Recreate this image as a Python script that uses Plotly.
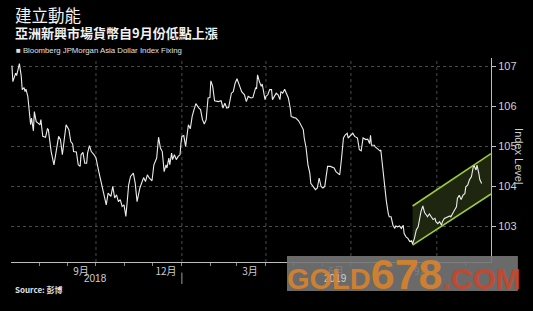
import plotly.graph_objects as go

# ---- data ----
dates = [
    "2018-07-03","2018-07-04","2018-07-07","2018-07-08","2018-07-11","2018-07-13","2018-07-14","2018-07-16",
    "2018-07-17","2018-07-18","2018-07-20","2018-07-22","2018-07-23","2018-07-24","2018-07-26","2018-07-27",
    "2018-07-29","2018-07-31","2018-08-02","2018-08-03","2018-08-05","2018-08-08","2018-08-10","2018-08-11",
    "2018-08-12","2018-08-14","2018-08-17","2018-08-19","2018-08-22","2018-08-24","2018-08-26","2018-08-28",
    "2018-08-30","2018-09-02","2018-09-04","2018-09-06","2018-09-07","2018-09-10","2018-09-12","2018-09-14",
    "2018-09-15","2018-09-17","2018-09-19","2018-09-21","2018-09-22","2018-09-24","2018-09-26","2018-09-29",
    "2018-10-01","2018-10-04","2018-10-07","2018-10-09","2018-10-12","2018-10-14","2018-10-17","2018-10-19",
    "2018-10-21","2018-10-23","2018-10-25","2018-10-27","2018-10-29","2018-10-31","2018-11-02","2018-11-03",
    "2018-11-05","2018-11-07","2018-11-10","2018-11-12","2018-11-14","2018-11-17","2018-11-19","2018-11-21",
    "2018-11-23","2018-11-25","2018-11-27","2018-11-30","2018-12-02","2018-12-05","2018-12-07","2018-12-09",
    "2018-12-11","2018-12-13","2018-12-15","2018-12-16","2018-12-18","2018-12-19","2018-12-21","2018-12-22",
    "2018-12-24","2018-12-26","2018-12-28","2018-12-30","2018-12-31",
    "2019-01-01","2019-01-03","2019-01-05","2019-01-07","2019-01-08","2019-01-10","2019-01-12","2019-01-14",
    "2019-01-16","2019-01-19","2019-01-21","2019-01-23","2019-01-25","2019-01-27","2019-01-29","2019-01-31",
    "2019-02-01","2019-02-03","2019-02-05","2019-02-09","2019-02-12","2019-02-14","2019-02-16","2019-02-18",
    "2019-02-20","2019-02-23","2019-02-25","2019-02-27","2019-03-01","2019-03-04","2019-03-06","2019-03-09",
    "2019-03-11","2019-03-13","2019-03-16","2019-03-18","2019-03-21","2019-03-22","2019-03-23","2019-03-25",
    "2019-03-27","2019-03-28","2019-03-31","2019-04-01","2019-04-03","2019-04-05","2019-04-07","2019-04-08",
    "2019-04-10","2019-04-12","2019-04-14","2019-04-16","2019-04-17","2019-04-19","2019-04-21","2019-04-24",
    "2019-04-25","2019-04-27","2019-04-28","2019-05-01","2019-05-03","2019-05-06","2019-05-08","2019-05-11",
    "2019-05-12","2019-05-14","2019-05-16","2019-05-18","2019-05-19","2019-05-22","2019-05-24","2019-05-26",
    "2019-05-28","2019-05-30","2019-06-01","2019-06-03","2019-06-05","2019-06-06","2019-06-09","2019-06-12",
    "2019-06-13","2019-06-15","2019-06-17","2019-06-19","2019-06-21","2019-06-23","2019-06-25","2019-06-27",
    "2019-06-28","2019-07-01","2019-07-03","2019-07-05","2019-07-07","2019-07-08","2019-07-10","2019-07-12",
    "2019-07-14","2019-07-16","2019-07-17","2019-07-19","2019-07-21","2019-07-22","2019-07-23","2019-07-26",
    "2019-07-27","2019-07-29","2019-08-01","2019-08-02","2019-08-04","2019-08-06","2019-08-08","2019-08-10",
    "2019-08-11","2019-08-13","2019-08-15","2019-08-17","2019-08-18","2019-08-20","2019-08-22","2019-08-24",
    "2019-08-26","2019-08-27","2019-08-29","2019-08-31","2019-09-02","2019-09-04","2019-09-05","2019-09-07",
    "2019-09-09","2019-09-11","2019-09-12","2019-09-14","2019-09-16","2019-09-18","2019-09-20","2019-09-21",
    "2019-09-23","2019-09-25","2019-09-27","2019-09-29","2019-09-30","2019-10-02","2019-10-04","2019-10-06",
    "2019-10-07","2019-10-09","2019-10-11","2019-10-13","2019-10-15","2019-10-16","2019-10-18","2019-10-20",
    "2019-10-22","2019-10-23","2019-10-25","2019-10-27","2019-10-29","2019-10-31","2019-11-01","2019-11-03",
    "2019-11-05","2019-11-07","2019-11-09","2019-11-10","2019-11-12","2019-11-13","2019-11-15","2019-11-16",
    "2019-11-18",
]
index_values = [
    107.02,106.62,106.83,106.77,107.07,106.75,106.42,106.47,
    106.37,106.43,106.25,105.87,105.54,105.71,105.39,105.87,
    105.62,105.58,105.54,105.67,105.25,105.23,105.44,105.42,
    105.21,104.87,104.54,104.79,105.25,105.17,104.79,105.17,
    105.54,105.42,105.12,105.06,104.87,104.86,104.54,104.50,
    104.79,104.85,104.58,104.58,104.83,105.02,104.87,104.79,
    104.71,104.37,104.04,103.87,103.54,103.83,103.75,104.00,
    103.71,103.79,103.62,103.67,103.50,103.54,103.25,103.50,
    104.04,104.25,104.33,104.08,103.62,103.96,104.08,104.22,
    104.12,104.29,104.21,104.14,104.54,104.71,105.23,104.96,
    104.87,104.37,104.54,104.46,104.71,104.54,104.83,104.67,
    104.79,104.67,104.75,104.79,105.08,
    105.25,105.27,105.00,105.37,105.54,105.44,105.75,105.92,
    106.07,105.96,105.92,105.67,105.56,105.67,106.21,106.22,
    106.64,106.50,106.14,106.12,106.14,105.96,106.08,105.96,
    105.97,106.33,106.37,106.58,106.69,106.50,106.37,106.29,
    106.12,106.25,106.21,106.22,106.47,106.44,106.79,106.62,
    106.50,106.56,106.17,106.25,106.29,106.42,106.42,106.17,
    106.27,106.33,106.29,106.17,106.37,106.33,106.43,106.25,
    106.21,105.96,105.75,105.72,105.71,105.64,105.54,105.42,
    105.21,104.96,104.54,104.33,104.08,104.00,103.92,103.96,
    104.21,104.00,103.96,104.00,104.29,104.50,104.50,104.46,
    104.46,104.37,104.33,104.29,104.71,105.21,105.29,105.33,
    105.21,105.27,105.33,105.25,105.21,105.21,104.92,104.89,
    105.21,105.17,105.17,105.18,105.07,105.28,105.03,105.03,
    104.99,104.95,104.89,104.91,104.49,103.91,103.62,103.32,
    103.24,103.24,103.03,102.95,103.01,102.99,103.01,102.95,
    103.03,102.82,102.74,102.70,102.62,102.64,102.56,102.70,
    102.91,102.99,103.16,103.37,103.51,103.34,103.28,103.24,
    103.31,103.24,103.17,103.20,103.12,103.07,103.12,103.03,
    103.12,103.20,103.22,103.24,103.26,103.24,103.34,103.41,
    103.49,103.70,103.78,103.67,103.78,103.82,103.99,104.03,
    104.17,104.24,104.49,104.51,104.41,104.53,104.32,104.17,
    104.07,
]

# rising channel drawn on the chart
channel_dates = ["2019-09-05", "2019-11-28"]
channel_lower = [102.53, 103.81]
channel_upper = [103.51, 104.82]

# axis labels
month_label_dates = ["2018-09-15", "2018-12-15", "2019-03-15", "2019-06-15", "2019-09-15"]
month_labels = ["9月", "12月", "3月", "6月", "9月"]
month_starts = [f"{y}-{m:02d}-01" for y, m in
                [(2018, 8), (2018, 9), (2018, 10), (2018, 11), (2018, 12), (2019, 1), (2019, 2),
                 (2019, 3), (2019, 4), (2019, 5), (2019, 6), (2019, 7), (2019, 8), (2019, 9),
                 (2019, 10), (2019, 11)]]
grid_dates = ["2018-10-01", "2019-01-01", "2019-04-01", "2019-07-01", "2019-10-01"]
year_labels = ["2018", "2019"]
year_label_dates = ["2018-09-30", "2019-06-15"]
x_range = ["2018-07-02", "2019-11-28"]
y_range = [102.11, 107.21]

CJK = "Noto Sans CJK TC, Noto Sans, sans-serif"
LAT = "Liberation Sans, Arial, sans-serif"
AXC = "#cfcfcf"

fig = go.Figure()

# channel fill
fig.add_trace(go.Scatter(
    x=[channel_dates[0], channel_dates[1], channel_dates[1], channel_dates[0], channel_dates[0]],
    y=[channel_lower[0], channel_lower[1], channel_upper[1], channel_upper[0], channel_lower[0]],
    fill="toself", fillcolor="#1e2610", line=dict(width=0), mode="lines",
    hoverinfo="skip", showlegend=False))
for ys in (channel_lower, channel_upper):
    fig.add_trace(go.Scatter(x=channel_dates, y=ys, mode="lines",
                             line=dict(color="#9dcb3c", width=1.6),
                             hoverinfo="skip", showlegend=False))

# main series
fig.add_trace(go.Scatter(x=dates, y=index_values, mode="lines",
                         line=dict(color="#ececec", width=1.1), showlegend=False))

shapes = []
for g in grid_dates:
    shapes.append(dict(type="line", xref="x", yref="paper", x0=g, x1=g, y0=0, y1=1,
                       line=dict(color="#4a4a4a", width=1, dash="dot"), layer="below"))
# year separator below axis
shapes.append(dict(type="line", xref="x", yref="paper", x0="2019-01-01", x1="2019-01-01",
                   y0=-0.052, y1=-0.108, line=dict(color="#9a9a9a", width=1)))
# watermark box
shapes.append(dict(type="rect", xref="paper", yref="paper", x0=0.575, x1=1.056,
                   y0=-0.142, y1=0.029, fillcolor="rgba(118,118,118,0.9)",
                   line=dict(width=0), layer="above"))

annotations = [
    dict(text="建立動能", x=0.004, y=1.212, xref="paper", yref="paper", xanchor="left",
         yanchor="middle", showarrow=False, font=dict(family=CJK, size=16.5, color="#f2f2f2")),
    dict(text="<b>亞洲新興市場貨幣自9月份低點上漲</b>", x=0.004, y=1.123, xref="paper", yref="paper",
         xanchor="left", yanchor="middle", showarrow=False,
         font=dict(family=CJK, size=13, color="#f2f2f2")),
    dict(text="■ Bloomberg JPMorgan Asia Dollar Index Fixing", x=0.006, y=1.039, xref="paper",
         yref="paper", xanchor="left", yanchor="middle", showarrow=False,
         font=dict(family=LAT, size=7.8, color="#e0e0e0")),
    dict(text="<b>Source: 彭博</b>", x=0.004, y=-0.137, xref="paper", yref="paper",
         xanchor="left", yanchor="middle", showarrow=False,
         font=dict(family=CJK, size=8, color="#e0e0e0")),
    dict(text="Index Level", x=1.058, y=0.52, xref="paper", yref="paper", textangle=90,
         xanchor="center", yanchor="middle", showarrow=False,
         font=dict(family=LAT, size=11, color=AXC)),
]
for t, d in zip(year_labels, year_label_dates):
    annotations.append(dict(text=t, x=d, y=-0.083, xref="x", yref="paper", xanchor="center",
                            yanchor="middle", showarrow=False,
                            font=dict(family=LAT, size=10, color=AXC)))
annotations.append(dict(
    text="<b><span style='color:#d8832b;font-size:29px'>GOLD</span>"
         "<span style='color:#d8832b;font-size:43px'>678</span>"
         "<span style='color:#c9472b;font-size:30px'>.COM</span></b>",
    x=0.571, y=-0.06, xref="paper", yref="paper", xanchor="left", yanchor="middle",
    showarrow=False, opacity=0.9, font=dict(family=LAT, size=29, color="#d8832b")))

fig.update_layout(
    width=533, height=311,
    margin=dict(l=11, r=42, t=58, b=49, pad=0),
    paper_bgcolor="#000000", plot_bgcolor="#000000",
    showlegend=False,
    shapes=shapes, annotations=annotations,
    xaxis=dict(type="date", range=x_range, showgrid=False, zeroline=False,
               tickmode="array", tickvals=month_label_dates, ticktext=month_labels,
               ticks="", tickfont=dict(family=CJK, size=10, color=AXC),
               showline=True, linecolor="#bdbdbd", linewidth=1,
               minor=dict(tickmode="array", tickvals=month_starts, ticks="outside",
                          ticklen=3, tickcolor="#8a8a8a", showgrid=False)),
    yaxis=dict(side="right", range=y_range, tickmode="array",
               tickvals=[103, 104, 105, 106, 107], ticks="outside", ticklen=4,
               tickcolor="#bdbdbd", showline=True, linecolor="#bdbdbd", linewidth=1,
               showgrid=True, gridcolor="#4a4a4a", griddash="dot", gridwidth=1,
               zeroline=False, tickfont=dict(family=LAT, size=11, color=AXC)),
)

fig.write_html("out.html")
